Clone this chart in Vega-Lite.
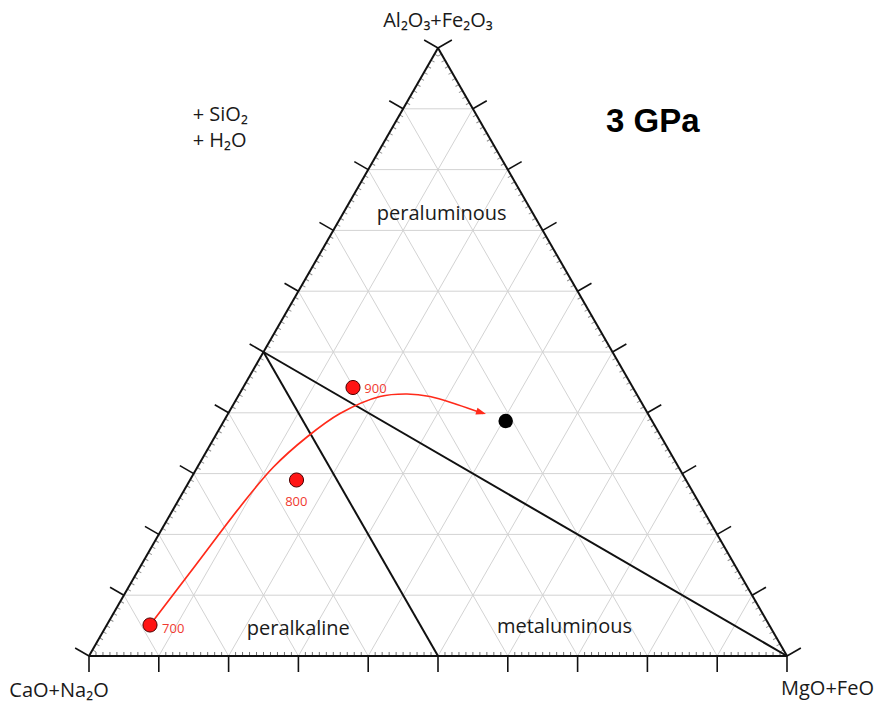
{
  "$schema": "https://vega.github.io/schema/vega-lite/v6.json",
  "width": 881,
  "height": 702,
  "padding": 0,
  "autosize": "none",
  "background": "white",
  "config": {"view": {"stroke": null}},
  "datasets": {
    "grid": [
      {"x": 0.05, "y": 0.1, "x2": 0.95, "y2": 0.1},
      {"x": 0.1, "y": 0.2, "x2": 0.9, "y2": 0.2},
      {"x": 0.15, "y": 0.3, "x2": 0.85, "y2": 0.3},
      {"x": 0.2, "y": 0.4, "x2": 0.8, "y2": 0.4},
      {"x": 0.25, "y": 0.5, "x2": 0.75, "y2": 0.5},
      {"x": 0.3, "y": 0.6, "x2": 0.7, "y2": 0.6},
      {"x": 0.35, "y": 0.7, "x2": 0.65, "y2": 0.7},
      {"x": 0.4, "y": 0.8, "x2": 0.6, "y2": 0.8},
      {"x": 0.45, "y": 0.9, "x2": 0.55, "y2": 0.9},
      {"x": 0.1, "y": 0, "x2": 0.55, "y2": 0.9},
      {"x": 0.2, "y": 0, "x2": 0.6, "y2": 0.8},
      {"x": 0.3, "y": 0, "x2": 0.65, "y2": 0.7},
      {"x": 0.4, "y": 0, "x2": 0.7, "y2": 0.6},
      {"x": 0.5, "y": 0, "x2": 0.75, "y2": 0.5},
      {"x": 0.6, "y": 0, "x2": 0.8, "y2": 0.4},
      {"x": 0.7, "y": 0, "x2": 0.85, "y2": 0.3},
      {"x": 0.8, "y": 0, "x2": 0.9, "y2": 0.2},
      {"x": 0.9, "y": 0, "x2": 0.95, "y2": 0.1},
      {"x": 0.9, "y": 0, "x2": 0.45, "y2": 0.9},
      {"x": 0.8, "y": 0, "x2": 0.4, "y2": 0.8},
      {"x": 0.7, "y": 0, "x2": 0.35, "y2": 0.7},
      {"x": 0.6, "y": 0, "x2": 0.3, "y2": 0.6},
      {"x": 0.5, "y": 0, "x2": 0.25, "y2": 0.5},
      {"x": 0.4, "y": 0, "x2": 0.2, "y2": 0.4},
      {"x": 0.3, "y": 0, "x2": 0.15, "y2": 0.3},
      {"x": 0.2, "y": 0, "x2": 0.1, "y2": 0.2},
      {"x": 0.1, "y": 0, "x2": 0.05, "y2": 0.1}
    ],
    "frame": [
      {"x": 0, "y": 0, "x2": 1, "y2": 0},
      {"x": 0, "y": 0, "x2": 0.5, "y2": 1},
      {"x": 1, "y": 0, "x2": 0.5, "y2": 1},
      {"x": 0.25, "y": 0.5, "x2": 0.5, "y2": 0},
      {"x": 0.25, "y": 0.5, "x2": 1, "y2": 0}
    ],
    "major": [
      {"t": 0, "h": 0, "r": 1},
      {"t": 0.1, "h": 0.05, "r": 0.95},
      {"t": 0.2, "h": 0.1, "r": 0.9},
      {"t": 0.3, "h": 0.15, "r": 0.85},
      {"t": 0.4, "h": 0.2, "r": 0.8},
      {"t": 0.5, "h": 0.25, "r": 0.75},
      {"t": 0.6, "h": 0.3, "r": 0.7},
      {"t": 0.7, "h": 0.35, "r": 0.65},
      {"t": 0.8, "h": 0.4, "r": 0.6},
      {"t": 0.9, "h": 0.45, "r": 0.55},
      {"t": 1, "h": 0.5, "r": 0.5}
    ],
    "minor": [
      {"t": 0.01, "h": 0.005, "r": 0.995}, {"t": 0.02, "h": 0.01, "r": 0.99}, {"t": 0.03, "h": 0.015, "r": 0.985},
      {"t": 0.04, "h": 0.02, "r": 0.98}, {"t": 0.05, "h": 0.025, "r": 0.975}, {"t": 0.06, "h": 0.03, "r": 0.97},
      {"t": 0.07, "h": 0.035, "r": 0.965}, {"t": 0.08, "h": 0.04, "r": 0.96}, {"t": 0.09, "h": 0.045, "r": 0.955},
      {"t": 0.11, "h": 0.055, "r": 0.945}, {"t": 0.12, "h": 0.06, "r": 0.94}, {"t": 0.13, "h": 0.065, "r": 0.935},
      {"t": 0.14, "h": 0.07, "r": 0.93}, {"t": 0.15, "h": 0.075, "r": 0.925}, {"t": 0.16, "h": 0.08, "r": 0.92},
      {"t": 0.17, "h": 0.085, "r": 0.915}, {"t": 0.18, "h": 0.09, "r": 0.91}, {"t": 0.19, "h": 0.095, "r": 0.905},
      {"t": 0.21, "h": 0.105, "r": 0.895}, {"t": 0.22, "h": 0.11, "r": 0.89}, {"t": 0.23, "h": 0.115, "r": 0.885},
      {"t": 0.24, "h": 0.12, "r": 0.88}, {"t": 0.25, "h": 0.125, "r": 0.875}, {"t": 0.26, "h": 0.13, "r": 0.87},
      {"t": 0.27, "h": 0.135, "r": 0.865}, {"t": 0.28, "h": 0.14, "r": 0.86}, {"t": 0.29, "h": 0.145, "r": 0.855},
      {"t": 0.31, "h": 0.155, "r": 0.845}, {"t": 0.32, "h": 0.16, "r": 0.84}, {"t": 0.33, "h": 0.165, "r": 0.835},
      {"t": 0.34, "h": 0.17, "r": 0.83}, {"t": 0.35, "h": 0.175, "r": 0.825}, {"t": 0.36, "h": 0.18, "r": 0.82},
      {"t": 0.37, "h": 0.185, "r": 0.815}, {"t": 0.38, "h": 0.19, "r": 0.81}, {"t": 0.39, "h": 0.195, "r": 0.805},
      {"t": 0.41, "h": 0.205, "r": 0.795}, {"t": 0.42, "h": 0.21, "r": 0.79}, {"t": 0.43, "h": 0.215, "r": 0.785},
      {"t": 0.44, "h": 0.22, "r": 0.78}, {"t": 0.45, "h": 0.225, "r": 0.775}, {"t": 0.46, "h": 0.23, "r": 0.77},
      {"t": 0.47, "h": 0.235, "r": 0.765}, {"t": 0.48, "h": 0.24, "r": 0.76}, {"t": 0.49, "h": 0.245, "r": 0.755},
      {"t": 0.51, "h": 0.255, "r": 0.745}, {"t": 0.52, "h": 0.26, "r": 0.74}, {"t": 0.53, "h": 0.265, "r": 0.735},
      {"t": 0.54, "h": 0.27, "r": 0.73}, {"t": 0.55, "h": 0.275, "r": 0.725}, {"t": 0.56, "h": 0.28, "r": 0.72},
      {"t": 0.57, "h": 0.285, "r": 0.715}, {"t": 0.58, "h": 0.29, "r": 0.71}, {"t": 0.59, "h": 0.295, "r": 0.705},
      {"t": 0.61, "h": 0.305, "r": 0.695}, {"t": 0.62, "h": 0.31, "r": 0.69}, {"t": 0.63, "h": 0.315, "r": 0.685},
      {"t": 0.64, "h": 0.32, "r": 0.68}, {"t": 0.65, "h": 0.325, "r": 0.675}, {"t": 0.66, "h": 0.33, "r": 0.67},
      {"t": 0.67, "h": 0.335, "r": 0.665}, {"t": 0.68, "h": 0.34, "r": 0.66}, {"t": 0.69, "h": 0.345, "r": 0.655},
      {"t": 0.71, "h": 0.355, "r": 0.645}, {"t": 0.72, "h": 0.36, "r": 0.64}, {"t": 0.73, "h": 0.365, "r": 0.635},
      {"t": 0.74, "h": 0.37, "r": 0.63}, {"t": 0.75, "h": 0.375, "r": 0.625}, {"t": 0.76, "h": 0.38, "r": 0.62},
      {"t": 0.77, "h": 0.385, "r": 0.615}, {"t": 0.78, "h": 0.39, "r": 0.61}, {"t": 0.79, "h": 0.395, "r": 0.605},
      {"t": 0.81, "h": 0.405, "r": 0.595}, {"t": 0.82, "h": 0.41, "r": 0.59}, {"t": 0.83, "h": 0.415, "r": 0.585},
      {"t": 0.84, "h": 0.42, "r": 0.58}, {"t": 0.85, "h": 0.425, "r": 0.575}, {"t": 0.86, "h": 0.43, "r": 0.57},
      {"t": 0.87, "h": 0.435, "r": 0.565}, {"t": 0.88, "h": 0.44, "r": 0.56}, {"t": 0.89, "h": 0.445, "r": 0.555},
      {"t": 0.91, "h": 0.455, "r": 0.545}, {"t": 0.92, "h": 0.46, "r": 0.54}, {"t": 0.93, "h": 0.465, "r": 0.535},
      {"t": 0.94, "h": 0.47, "r": 0.53}, {"t": 0.95, "h": 0.475, "r": 0.525}, {"t": 0.96, "h": 0.48, "r": 0.52},
      {"t": 0.97, "h": 0.485, "r": 0.515}, {"t": 0.98, "h": 0.49, "r": 0.51}, {"t": 0.99, "h": 0.495, "r": 0.505}
    ],
    "path": [
      {"x": 0.0874, "y": 0.051},
      {"x": 0.1519, "y": 0.148},
      {"x": 0.2163, "y": 0.2451},
      {"x": 0.2636, "y": 0.31},
      {"x": 0.3123, "y": 0.3602},
      {"x": 0.3596, "y": 0.3988},
      {"x": 0.4169, "y": 0.4268},
      {"x": 0.4556, "y": 0.4309},
      {"x": 0.4885, "y": 0.4268},
      {"x": 0.5272, "y": 0.4137},
      {"x": 0.5645, "y": 0.3988}
    ],
    "arrow": [{"x": 0.5688, "y": 0.398}],
    "melts": [
      {"T": 700, "x": 0.0874, "y": 0.051},
      {"T": 800, "x": 0.2973, "y": 0.2895},
      {"T": 900, "x": 0.3782, "y": 0.4416}
    ],
    "bulk": [{"x": 0.597, "y": 0.3865}],
    "tempRight": [
      {"label": "700", "x": 0.1046, "y": 0.0383},
      {"label": "900", "x": 0.3944, "y": 0.4321}
    ],
    "tempBelow": [
      {"label": "800", "x": 0.297, "y": 0.2467}
    ],
    "names": [
      {"label": "Al₂O₃+Fe₂O₃", "x": 0.5, "y": 1.034},
      {"label": "CaO+Na₂O", "x": -0.043, "y": -0.0674},
      {"label": "MgO+FeO", "x": 1.058, "y": -0.0641},
      {"label": "peraluminous", "x": 0.5053, "y": 0.7171},
      {"label": "peralkaline", "x": 0.2999, "y": 0.0345},
      {"label": "metaluminous", "x": 0.6812, "y": 0.0378}
    ],
    "extras": [
      {"label": "+ SiO₂", "x": 0.1486, "y": 0.8799},
      {"label": "+ H₂O", "x": 0.1486, "y": 0.8372}
    ],
    "pressure": [{"label": "3 GPa", "x": 0.7407, "y": 0.8623}]
  },
  "layer": [
    {
      "data": {"name": "grid"},
      "mark": {"type": "rule", "stroke": "#d3d3d3", "strokeWidth": 1},
      "encoding": {
        "x": {"field": "x", "type": "quantitative", "scale": {"domain": [-0.12751, 1.13467], "nice": false, "zero": false}, "axis": null},
        "y": {"field": "y", "type": "quantitative", "scale": {"domain": [-0.07566, 1.07895], "nice": false, "zero": false}, "axis": null},
        "x2": {"field": "x2"},
        "y2": {"field": "y2"}
      }
    },
    {
      "data": {"name": "minor"},
      "mark": {"type": "point", "shape": "M0,0L1,0", "size": 64, "angle": 270, "filled": false, "stroke": "#707070", "strokeWidth": 1, "opacity": 1},
      "encoding": {
        "x": {"field": "t", "type": "quantitative", "scale": {"domain": [-0.12751, 1.13467], "nice": false, "zero": false}, "axis": null},
        "y": {"datum": 0, "type": "quantitative", "scale": {"domain": [-0.07566, 1.07895], "nice": false, "zero": false}, "axis": null}
      }
    },
    {
      "data": {"name": "minor"},
      "mark": {"type": "point", "shape": "M0,0L1,0", "size": 64, "angle": 30, "filled": false, "stroke": "#909090", "strokeWidth": 1, "opacity": 1},
      "encoding": {
        "x": {"field": "h", "type": "quantitative", "scale": {"domain": [-0.12751, 1.13467], "nice": false, "zero": false}, "axis": null},
        "y": {"field": "t", "type": "quantitative", "scale": {"domain": [-0.07566, 1.07895], "nice": false, "zero": false}, "axis": null}
      }
    },
    {
      "data": {"name": "minor"},
      "mark": {"type": "point", "shape": "M0,0L1,0", "size": 64, "angle": 150, "filled": false, "stroke": "#909090", "strokeWidth": 1, "opacity": 1},
      "encoding": {
        "x": {"field": "r", "type": "quantitative", "scale": {"domain": [-0.12751, 1.13467], "nice": false, "zero": false}, "axis": null},
        "y": {"field": "t", "type": "quantitative", "scale": {"domain": [-0.07566, 1.07895], "nice": false, "zero": false}, "axis": null}
      }
    },
    {
      "data": {"name": "major"},
      "mark": {"type": "point", "shape": "M0,0L1,0", "size": 1024, "angle": 90, "filled": false, "stroke": "#111111", "strokeWidth": 1.6, "opacity": 1},
      "encoding": {
        "x": {"field": "t", "type": "quantitative", "scale": {"domain": [-0.12751, 1.13467], "nice": false, "zero": false}, "axis": null},
        "y": {"datum": 0, "type": "quantitative", "scale": {"domain": [-0.07566, 1.07895], "nice": false, "zero": false}, "axis": null}
      }
    },
    {
      "data": {"name": "major"},
      "mark": {"type": "point", "shape": "M0,0L1,0", "size": 1024, "angle": 210, "filled": false, "stroke": "#111111", "strokeWidth": 1.6, "opacity": 1},
      "encoding": {
        "x": {"field": "h", "type": "quantitative", "scale": {"domain": [-0.12751, 1.13467], "nice": false, "zero": false}, "axis": null},
        "y": {"field": "t", "type": "quantitative", "scale": {"domain": [-0.07566, 1.07895], "nice": false, "zero": false}, "axis": null}
      }
    },
    {
      "data": {"name": "major"},
      "mark": {"type": "point", "shape": "M0,0L1,0", "size": 1024, "angle": 330, "filled": false, "stroke": "#111111", "strokeWidth": 1.6, "opacity": 1},
      "encoding": {
        "x": {"field": "r", "type": "quantitative", "scale": {"domain": [-0.12751, 1.13467], "nice": false, "zero": false}, "axis": null},
        "y": {"field": "t", "type": "quantitative", "scale": {"domain": [-0.07566, 1.07895], "nice": false, "zero": false}, "axis": null}
      }
    },
    {
      "data": {"name": "frame"},
      "mark": {"type": "rule", "stroke": "#111111", "strokeWidth": 2},
      "encoding": {
        "x": {"field": "x", "type": "quantitative", "scale": {"domain": [-0.12751, 1.13467], "nice": false, "zero": false}, "axis": null},
        "y": {"field": "y", "type": "quantitative", "scale": {"domain": [-0.07566, 1.07895], "nice": false, "zero": false}, "axis": null},
        "x2": {"field": "x2"},
        "y2": {"field": "y2"}
      }
    },
    {
      "data": {"name": "path"},
      "mark": {"type": "line", "interpolate": "catmull-rom", "stroke": "#ff2a1a", "strokeWidth": 1.7},
      "encoding": {
        "x": {"field": "x", "type": "quantitative", "scale": {"domain": [-0.12751, 1.13467], "nice": false, "zero": false}, "axis": null},
        "y": {"field": "y", "type": "quantitative", "scale": {"domain": [-0.07566, 1.07895], "nice": false, "zero": false}, "axis": null}
      }
    },
    {
      "data": {"name": "arrow"},
      "mark": {"type": "point", "shape": "M0,0L-1,-0.35L-1,0.35Z", "size": 400, "angle": 17, "filled": true, "fill": "#ff2a1a", "strokeWidth": 0, "opacity": 1},
      "encoding": {
        "x": {"field": "x", "type": "quantitative", "scale": {"domain": [-0.12751, 1.13467], "nice": false, "zero": false}, "axis": null},
        "y": {"field": "y", "type": "quantitative", "scale": {"domain": [-0.07566, 1.07895], "nice": false, "zero": false}, "axis": null}
      }
    },
    {
      "data": {"name": "melts"},
      "mark": {"type": "point", "shape": "circle", "size": 200, "filled": true, "fill": "#ff1414", "stroke": "#4a0000", "strokeWidth": 1, "opacity": 1},
      "encoding": {
        "x": {"field": "x", "type": "quantitative", "scale": {"domain": [-0.12751, 1.13467], "nice": false, "zero": false}, "axis": null},
        "y": {"field": "y", "type": "quantitative", "scale": {"domain": [-0.07566, 1.07895], "nice": false, "zero": false}, "axis": null}
      }
    },
    {
      "data": {"name": "bulk"},
      "mark": {"type": "point", "shape": "circle", "size": 210, "filled": true, "fill": "#000000", "opacity": 1},
      "encoding": {
        "x": {"field": "x", "type": "quantitative", "scale": {"domain": [-0.12751, 1.13467], "nice": false, "zero": false}, "axis": null},
        "y": {"field": "y", "type": "quantitative", "scale": {"domain": [-0.07566, 1.07895], "nice": false, "zero": false}, "axis": null}
      }
    },
    {
      "data": {"name": "tempRight"},
      "mark": {"type": "text", "font": "Open Sans", "fontSize": 13, "fill": "#f03a30", "align": "left", "baseline": "alphabetic"},
      "encoding": {
        "x": {"field": "x", "type": "quantitative", "scale": {"domain": [-0.12751, 1.13467], "nice": false, "zero": false}, "axis": null},
        "y": {"field": "y", "type": "quantitative", "scale": {"domain": [-0.07566, 1.07895], "nice": false, "zero": false}, "axis": null},
        "text": {"field": "label"}
      }
    },
    {
      "data": {"name": "tempBelow"},
      "mark": {"type": "text", "font": "Open Sans", "fontSize": 13, "fill": "#f03a30", "align": "center", "baseline": "alphabetic"},
      "encoding": {
        "x": {"field": "x", "type": "quantitative", "scale": {"domain": [-0.12751, 1.13467], "nice": false, "zero": false}, "axis": null},
        "y": {"field": "y", "type": "quantitative", "scale": {"domain": [-0.07566, 1.07895], "nice": false, "zero": false}, "axis": null},
        "text": {"field": "label"}
      }
    },
    {
      "data": {"name": "names"},
      "mark": {"type": "text", "font": "Open Sans", "fontSize": 20, "fill": "#1a1a1a", "align": "center", "baseline": "alphabetic"},
      "encoding": {
        "x": {"field": "x", "type": "quantitative", "scale": {"domain": [-0.12751, 1.13467], "nice": false, "zero": false}, "axis": null},
        "y": {"field": "y", "type": "quantitative", "scale": {"domain": [-0.07566, 1.07895], "nice": false, "zero": false}, "axis": null},
        "text": {"field": "label"}
      }
    },
    {
      "data": {"name": "extras"},
      "mark": {"type": "text", "font": "Open Sans", "fontSize": 20, "fill": "#1a1a1a", "align": "left", "baseline": "alphabetic"},
      "encoding": {
        "x": {"field": "x", "type": "quantitative", "scale": {"domain": [-0.12751, 1.13467], "nice": false, "zero": false}, "axis": null},
        "y": {"field": "y", "type": "quantitative", "scale": {"domain": [-0.07566, 1.07895], "nice": false, "zero": false}, "axis": null},
        "text": {"field": "label"}
      }
    },
    {
      "data": {"name": "pressure"},
      "mark": {"type": "text", "font": "Liberation Sans", "fontSize": 33, "fontWeight": "bold", "fill": "#000000", "align": "left", "baseline": "alphabetic"},
      "encoding": {
        "x": {"field": "x", "type": "quantitative", "scale": {"domain": [-0.12751, 1.13467], "nice": false, "zero": false}, "axis": null},
        "y": {"field": "y", "type": "quantitative", "scale": {"domain": [-0.07566, 1.07895], "nice": false, "zero": false}, "axis": null},
        "text": {"field": "label"}
      }
    }
  ]
}
